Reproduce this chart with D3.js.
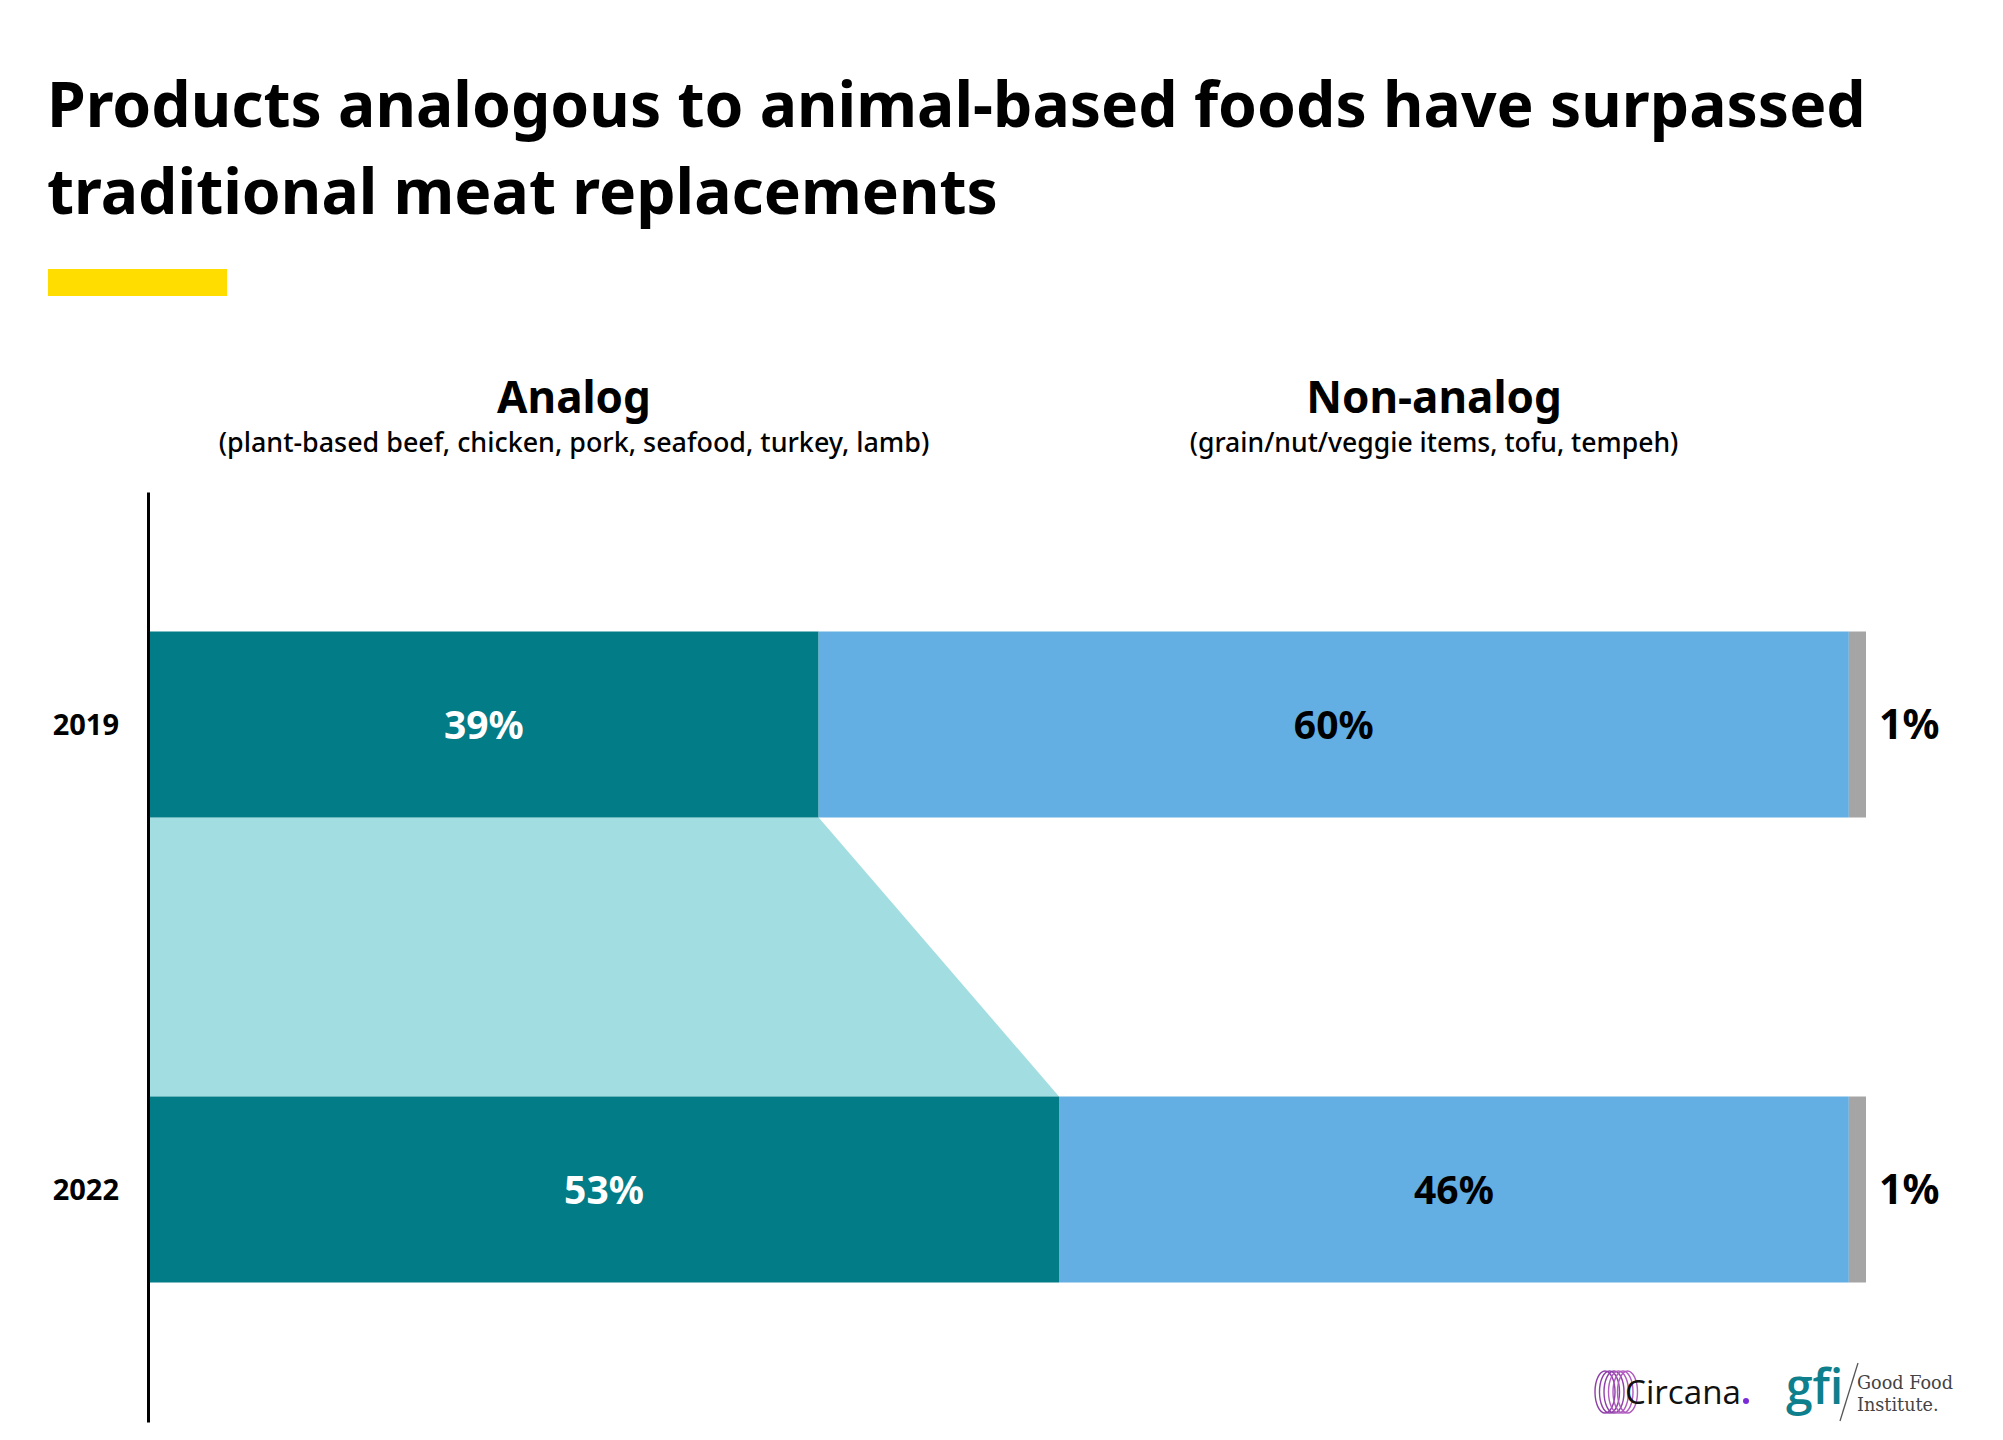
<!DOCTYPE html>
<html>
<head>
<meta charset="utf-8">
<script src="https://cdn.jsdelivr.net/npm/d3@7"></script>
<style>
html,body{margin:0;padding:0;background:#fff;}
svg{display:block;}
</style>
</head>
<body>
<svg id="chart" width="2003" height="1440"></svg>
<script>
const titleLines = ["Products analogous to animal-based foods have surpassed", "traditional meat replacements"];
const years = ["2019", "2022"];
const analog = [39, 53];
const nonAnalog = [60, 46];
const other = [1, 1];
const groupHeads = ["Analog", "Non-analog"];
const groupSubs = ["(plant-based beef, chicken, pork, seafood, turkey, lamb)", "(grain/nut/veggie items, tofu, tempeh)"];

const C = {teal:"#027c87", light:"#a2dee1", blue:"#63aee2", gray:"#a5a5a5", yellow:"#ffdd00"};
const svg = d3.select("#chart");
const W = 2003, H = 1440;
svg.append("rect").attr("width",W).attr("height",H).attr("fill","#fff");

function fitSize(sel, base, target){
  sel.attr("font-size", base);
  const w = sel.node().getComputedTextLength();
  sel.attr("font-size", base*target/w);
  return base*target/w;
}

// Title
const titleFont = "'Noto Sans', 'Open Sans', sans-serif";
const t1 = svg.append("text").attr("x",47).attr("y",127).attr("font-family",titleFont)
  .attr("font-weight",700).attr("fill","#000").text(titleLines[0]);
const fs = fitSize(t1, 62, 1819);
svg.append("text").attr("x",47).attr("y",214).attr("font-family",titleFont)
  .attr("font-weight",700).attr("font-size",fs).attr("fill","#000").text(titleLines[1]);
svg.append("rect").attr("x",48).attr("y",269).attr("width",179).attr("height",27).attr("fill",C.yellow);

// Scales
const x = d3.scaleLinear().domain([0,100]).range([149,1866]);
const y = d3.scaleBand().domain(years).range([492,1422]).paddingInner(0.6).paddingOuter(0.3);

const rows = years.map((yr,i)=>({yr, a:analog[i], n:nonAnalog[i], o:other[i]}));

// Connector between analog segments
const r0 = rows[0], r1 = rows[1];
const conn = [
  [x(0), y(r0.yr)+y.bandwidth()],
  [x(r0.a), y(r0.yr)+y.bandwidth()],
  [x(r1.a), y(r1.yr)],
  [x(0), y(r1.yr)]
];
svg.append("path").attr("d", d3.line()(conn)+"Z").attr("fill",C.light);

// Bars
const labelFont = "'Noto Sans', sans-serif";
const g = svg.append("g");
rows.forEach(r=>{
  const segs = [
    {x0:0, x1:r.a, c:C.teal},
    {x0:r.a, x1:r.a+r.n, c:C.blue},
    {x0:r.a+r.n, x1:r.a+r.n+r.o, c:C.gray}
  ];
  g.selectAll(null).data(segs).enter().append("rect")
    .attr("x",d=>x(d.x0)).attr("width",d=>x(d.x1)-x(d.x0))
    .attr("y",y(r.yr)).attr("height",y.bandwidth()).attr("fill",d=>d.c);
  const cy = y(r.yr)+y.bandwidth()/2 + 14;
  g.append("text").attr("x",(x(0)+x(r.a))/2).attr("y",cy).attr("text-anchor","middle")
    .attr("font-family",labelFont).attr("font-weight",700).attr("font-size",39)
    .attr("fill","#fff").text(r.a+"%");
  g.append("text").attr("x",(x(r.a)+x(r.a+r.n))/2).attr("y",cy).attr("text-anchor","middle")
    .attr("font-family",labelFont).attr("font-weight",700).attr("font-size",39)
    .attr("fill","#000").text(r.n+"%");
  g.append("text").attr("x",x(100)+13).attr("y",cy).attr("text-anchor","start")
    .attr("font-family",labelFont).attr("font-weight",700).attr("font-size",41)
    .attr("fill","#000").text(r.o+"%");
});

// Axis
const ax = svg.append("g").attr("transform","translate(148,0)")
  .call(d3.axisLeft(y).tickSize(0).tickPadding(29));
ax.select(".domain").attr("stroke","#000").attr("stroke-width",3);
ax.selectAll(".tick text").attr("font-family","'Noto Sans', sans-serif").attr("font-weight",700)
  .attr("font-size",29).attr("fill","#000").attr("dy","0.35em");

// Group headers
const headX = [574, 1434];
const subW = [711, 489];
headX.forEach((hx,i)=>{
  svg.append("text").attr("x",hx).attr("y",413).attr("text-anchor","middle")
    .attr("font-family","'Noto Sans', sans-serif").attr("font-weight",700).attr("font-size",44)
    .attr("fill","#000").text(groupHeads[i]);
  const s = svg.append("text").attr("x",hx).attr("y",452).attr("text-anchor","middle")
    .attr("font-family","'Noto Sans', sans-serif").attr("font-weight",500)
    .attr("fill","#000").text(groupSubs[i]);
  fitSize(s, 25, subW[i]);
});

// Logos (as drawn text/shapes)
const lg = svg.append("g");
for (let k=0;k<6;k++){
  lg.append("ellipse").attr("cx",1605+k*4.5).attr("cy",1392).attr("rx",10).attr("ry",21)
    .attr("fill","none").attr("stroke", k<3?"#8e3fa8":"#b05bbf").attr("stroke-width",1.4);
}
const ct = lg.append("text").attr("x",1625).attr("y",1404).attr("font-family","'Open Sans', sans-serif")
  .attr("font-weight",500).attr("fill","#111").text("Circana");
fitSize(ct, 31, 116);
lg.append("circle").attr("cx",1746).attr("cy",1401).attr("r",3).attr("fill","#7b2bd6");
lg.append("text").attr("x",1786).attr("y",1404).attr("font-family","'Open Sans', sans-serif")
  .attr("font-weight",600).attr("font-size",48).attr("fill","#0e7f8c").text("gfi");
lg.append("line").attr("x1",1858).attr("y1",1363).attr("x2",1840).attr("y2",1421)
  .attr("stroke","#555").attr("stroke-width",1.3);
const gf1 = lg.append("text").attr("x",1857).attr("y",1389).attr("font-family","'DejaVu Serif', serif")
  .attr("fill","#444").text("Good Food");
const gfs = fitSize(gf1, 19, 96);
lg.append("text").attr("x",1857).attr("y",1411).attr("font-family","'DejaVu Serif', serif")
  .attr("font-size",gfs).attr("fill","#444").text("Institute.");
</script>
</body>
</html>
